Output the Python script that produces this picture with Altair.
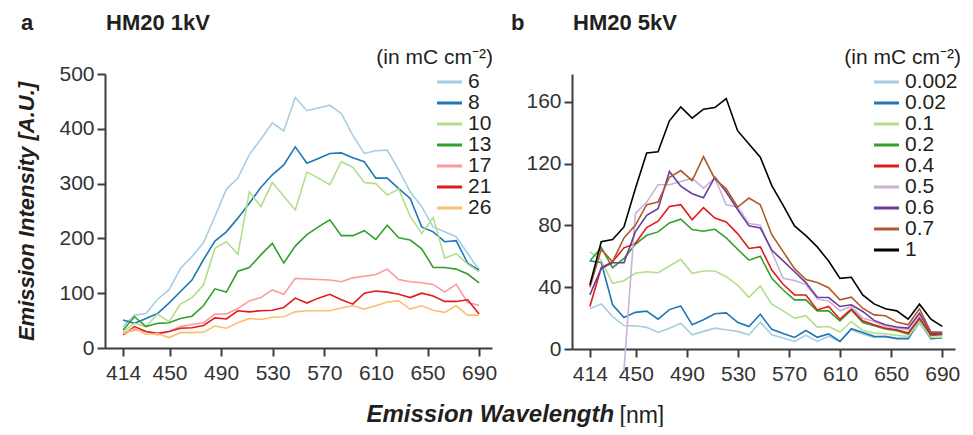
import altair as alt
import pandas as pd

wavelength = [414.0, 422.9, 431.8, 440.7, 449.6, 458.5, 467.4, 476.3, 485.2, 494.1,
              503.0, 511.9, 520.8, 529.7, 538.6, 547.5, 556.5, 565.4, 574.3, 583.2,
              592.1, 601.0, 609.9, 618.8, 627.7, 636.6, 645.5, 654.4, 663.3, 672.2,
              681.1, 690.0]

x_ticks = [414, 450, 490, 530, 570, 610, 650, 690]
legend_title = "(in mC cm⁻²)"

# Panel a: HM20 1kV  (dose in mC cm^-2)
a_labels = ["6", "8", "10", "13", "17", "21", "26"]
a_colors = ["#a6cee3", "#1f78b4", "#b2df8a", "#33a02c", "#fb9a99", "#e31a1c", "#fdbf6f"]
a_6 = [39, 60, 63, 89, 106, 145, 167, 192, 240, 290, 310, 353, 381, 411, 396, 457,
       433, 438, 443, 428, 388, 355, 360, 361, 325, 285, 258, 221, 212, 203, 173, 142]
a_8 = [51, 45, 54, 63, 82, 103, 124, 161, 195, 212, 237, 264, 293, 316, 334, 367,
       337, 346, 355, 356, 347, 340, 310, 310, 291, 273, 221, 212, 194, 196, 155, 142]
a_10 = [30, 45, 39, 62, 48, 80, 92, 115, 182, 194, 171, 285, 258, 302, 277, 252,
        321, 310, 298, 340, 330, 302, 300, 279, 290, 240, 209, 238, 164, 172, 153, 139]
a_13 = [33, 57, 39, 45, 46, 54, 58, 77, 108, 102, 140, 147, 170, 191, 155, 186,
        207, 221, 234, 205, 205, 214, 198, 224, 201, 197, 181, 147, 147, 144, 135, 119]
a_17 = [27, 33, 30, 24, 30, 39, 43, 46, 62, 62, 72, 86, 92, 106, 98, 127,
        126, 125, 124, 121, 128, 131, 134, 144, 125, 121, 119, 116, 102, 116, 83, 78]
a_21 = [24, 39, 30, 27, 30, 36, 37, 41, 55, 53, 68, 66, 68, 69, 74, 91,
        82, 91, 98, 88, 80, 100, 104, 102, 98, 92, 100, 95, 85, 85, 88, 62]
a_26 = [26, 36, 25, 26, 19, 28, 28, 29, 40, 36, 46, 54, 52, 56, 57, 66,
        68, 68, 68, 73, 77, 71, 77, 84, 86, 71, 77, 69, 65, 77, 60, 60]

# Panel b: HM20 5kV
b_labels = ["0.002", "0.02", "0.1", "0.2", "0.4", "0.5", "0.6", "0.7", "1"]
b_colors = ["#a6cee3", "#1f78b4", "#b2df8a", "#33a02c", "#e31a1c", "#cab2d6", "#6a3d9a", "#b15928", "#000000"]
b_0002 = [26, 29.2, 21, 15.2, 15, 14, 10.7, 13.5, 16.7, 9.2, 11.4, 13.5, 12.5, 11.4, 9.2, 17.4,
          9.2, 7.1, 4.9, 8.8, 4.9, 8.2, 4.9, 12.5, 9.7, 7.5, 8.2, 7.1, 6.7, 16.7, 6.7, 7.1]
b_002 = [57, 56, 28.6, 20.4, 23.7, 24.5, 19.3, 25.5, 27.9, 15.7, 18.9, 22.8, 23.4, 17.3, 14.6, 22.5,
         12.7, 10.1, 7.5, 12, 7.6, 9.8, 4.9, 13.1, 10.7, 8.2, 8, 6.7, 6.7, 18.7, 6.7, 7.3]
b_01 = [62.9, 57.5, 42.5, 44.2, 49, 50, 49.4, 53.7, 58, 49, 50.5, 50.5, 46.8, 41.4, 33.5, 40.8,
        29, 24.7, 20, 21.6, 14.2, 14.6, 11, 17.8, 12, 10.3, 9.7, 8.8, 8.2, 17.8, 7.5, 7.7]
b_02 = [56.9, 65.7, 52.6, 58.6, 67.8, 73.6, 75.8, 81.6, 84, 77.3, 76.2, 77.5, 71.9, 64.6, 57.5, 60.1,
        45.7, 38.2, 31.8, 31.8, 24.7, 24.7, 18.2, 25.3, 17.2, 15, 12.9, 11.8, 9.7, 20, 8.8, 9.2]
b_04 = [27.5, 52.6, 56.5, 65.5, 68.3, 78.6, 82.7, 92.3, 93.4, 83.7, 91.5, 84.8, 82.2, 74.7, 65.1, 66.1,
        51.1, 41.9, 35, 35, 25.3, 27.5, 19.3, 25.8, 18.2, 15.7, 13.5, 12.5, 10.3, 20, 9.2, 9.7]
b_05 = [None, None, None, -14, 87.6, 95.1, 106.3, 106.3, 108.4, 110.6, 104.1, 110.6, 93.4, 91.9, 81.2, 80.1,
        62.9, 45.7, 44.3, 41.7, 32.4, 31.1, 24.7, 27.5, 20, 17.8, 14.6, 13.5, 12.5, 22.1, 11, 10.3]
b_06 = [35, 52.2, 55.8, 55.8, 75.8, 86.5, 90.8, 114.9, 105.4, 100.5, 97.9, 111.2, 101.6, 90.2, 79.7, 78.4,
        64, 57, 50, 43, 33.5, 33.3, 27.5, 28.6, 24.3, 18.5, 15.7, 14.2, 13.5, 23.2, 10.3, 10.3]
b_07 = [40, 64.4, 56.5, 71.9, 80, 93.4, 95.1, 111.2, 115.5, 109, 124.5, 110.1, 103.7, 91.9, 97.7, 93.4,
        74, 63, 52, 45, 43, 39.7, 31.8, 33.5, 26.4, 22.1, 21.5, 17.4, 15.7, 26, 11, 11]
b_1 = [41.4, 69.4, 70.9, 79, 103.7, 126.9, 127.7, 147.7, 156.7, 149.4, 155.2, 156.3, 162.1, 141.3, 132.7, 124.1,
       105.8, 93, 79.7, 73.4, 66.1, 56.9, 45.7, 46.4, 35, 29.2, 26, 24.7, 19.3, 29, 19.3, 14.6]

FONT = "Liberation Sans"
TXT = "#231f20"


def frame(labels, series):
    rows = []
    for lab, vals in zip(labels, series):
        for w, v in zip(wavelength, vals):
            if v is not None:
                rows.append({"wl": w, "val": v, "dose": lab})
    return pd.DataFrame(rows)


def panel(labels, series, colors, ydom, yticks, title, letter, letter_dx, ytitle, xtitle, xtitle_style,
          xtitle_x, leg_x, unit_x, width, height):
    df = frame(labels, series)
    yaxis = dict(values=yticks, labelFontSize=21, tickSize=8, labelPadding=3)
    if ytitle:
        yaxis.update(title=ytitle, titleFontSize=22, titleFontWeight="bold", titleFontStyle="italic",
                     titlePadding=20, titleColor=TXT, titleFont=FONT)
    else:
        yaxis.update(title=None)
    xaxis = alt.Axis(values=x_ticks, labelFontSize=21, tickSize=8, labelPadding=6, labelFlush=False,
                     title=xtitle, titleX=xtitle_x, titleY=73, titleAnchor="start", titleAlign="left",
                     titleBaseline="alphabetic", titleFontSize=xtitle_style[2], titleFont=FONT, titleColor=TXT,
                     titleFontWeight=xtitle_style[0], titleFontStyle=xtitle_style[1])
    lines = alt.Chart(df).mark_line(strokeWidth=1.6).encode(
        x=alt.X("wl:Q", scale=alt.Scale(domain=[400, 700], nice=False, zero=False), axis=xaxis),
        y=alt.Y("val:Q", scale=alt.Scale(domain=ydom, nice=False, zero=False), axis=alt.Axis(**yaxis)),
        color=alt.Color("dose:N", scale=alt.Scale(domain=labels, range=colors), sort=labels,
                        legend=alt.Legend(title=None, orient="none", legendX=leg_x, legendY=-2,
                                          symbolType="M-1.24,0H1.24", symbolSize=441, symbolStrokeWidth=3,
                                          symbolFillColor="transparent", clipHeight=20,
                                          labelFontSize=21, rowPadding=0, labelOffset=7, padding=0,
                                          labelColor=TXT, labelFont=FONT)),
    )
    heads = alt.Chart(pd.DataFrame({"t": [letter], "h": [title], "u": [legend_title]}))
    lab = heads.mark_text(align="left", baseline="middle", fontSize=22, fontWeight="bold",
                          font=FONT, color=TXT).encode(text="t:N", x=alt.value(letter_dx), y=alt.value(-51))
    ttl = heads.mark_text(align="left", baseline="middle", fontSize=22, fontWeight="bold",
                          font=FONT, color=TXT).encode(text="h:N", x=alt.value(1), y=alt.value(-51))
    unit = heads.mark_text(align="right", baseline="middle", fontSize=21,
                           font=FONT, color=TXT).encode(text="u:N", x=alt.value(unit_x), y=alt.value(-16))
    return alt.layer(lines, lab, ttl, unit).properties(width=width, height=height)


left = panel(a_labels, [a_6, a_8, a_10, a_13, a_17, a_21, a_26], a_colors, [0, 500],
             [0, 100, 200, 300, 400, 500], "HM20 1kV", "a", -84, "Emission Intensity [A.U.]",
             "Emission Wavelength", ("bold", "italic", 24), 261, 332, 388, 387, 274)
right = panel(b_labels, [b_0002, b_002, b_01, b_02, b_04, b_05, b_06, b_07, b_1], b_colors, [0, 178],
              [0, 40, 80, 120, 160], "HM20 5kV", "b", -61, None,
              "[nm]", ("normal", "normal", 23), 47, 302, 389, 383, 275)

chart = alt.hconcat(left, right, spacing=80, bounds="flush").resolve_scale(color="independent").properties(
    padding={"left": 7, "top": 4, "right": 0, "bottom": 0},
).configure_view(stroke=None).configure_axis(
    grid=False, domainColor="#3d3d3d", domainWidth=2, tickColor="#3d3d3d", tickWidth=2,
    labelColor="#333333", labelFont=FONT
)

chart.save("out.html", embed_options={"renderer": "svg", "actions": False})
